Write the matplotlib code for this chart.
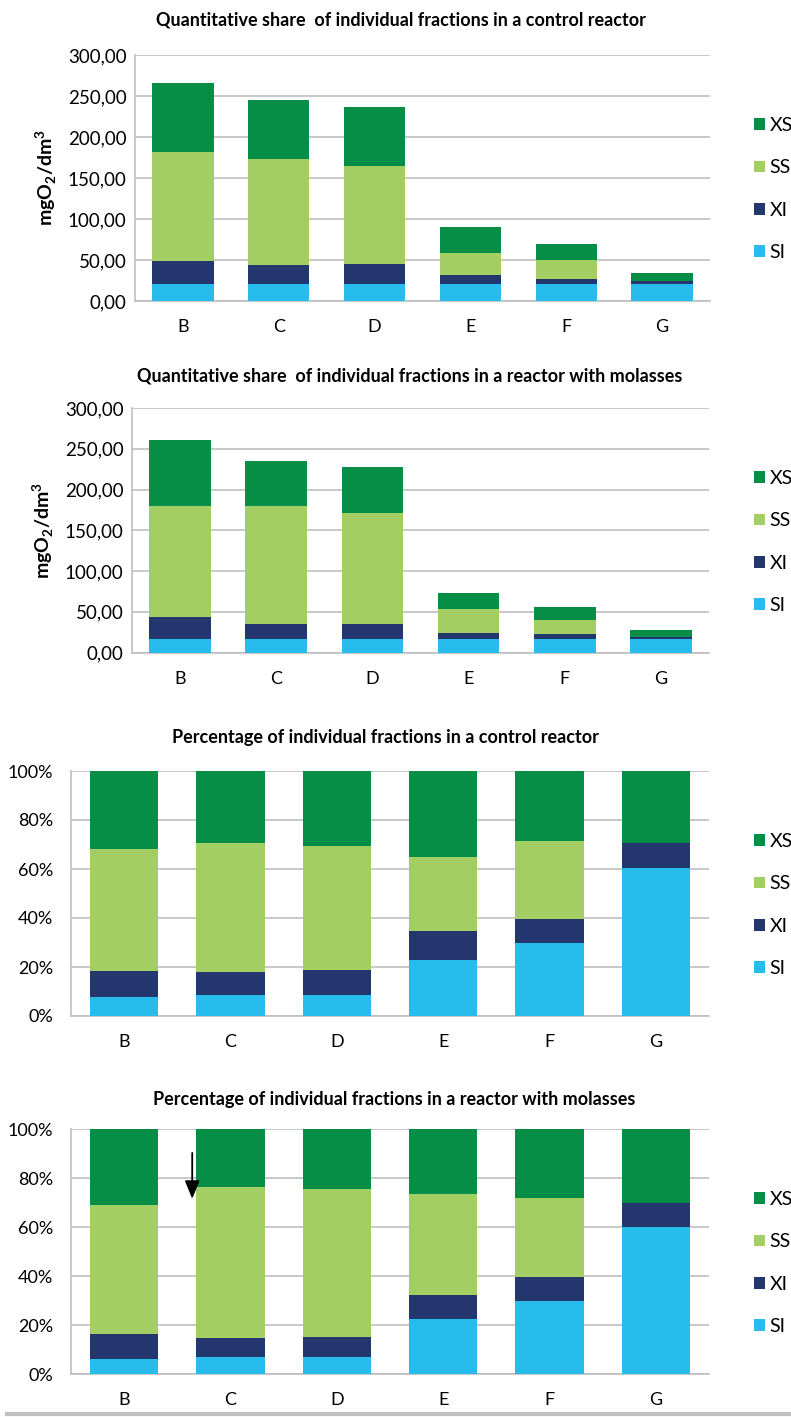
import matplotlib
matplotlib.use("Agg")
import matplotlib.pyplot as plt
import numpy as np
from matplotlib.ticker import FuncFormatter

plt.rcParams['font.family'] = ['Lato', 'DejaVu Sans']
plt.rcParams['mathtext.fontset'] = 'custom'
plt.rcParams['mathtext.rm'] = 'Lato'
plt.rcParams['mathtext.bf'] = 'Lato:bold'

# sampling points
samples = ["B", "C", "D", "E", "F", "G"]
fractions = ["SI", "XI", "SS", "XS"]

# mgO2/dm3, control reactor
ctrl_SI = [20.6, 20.6, 20.6, 20.6, 20.6, 20.6]
ctrl_XI = [28.5, 23.2, 24.0, 10.6, 6.8, 3.5]
ctrl_SS = [132.1, 129.3, 119.6, 26.9, 22.0, 0.0]
ctrl_XS = [84.2, 71.8, 72.7, 31.7, 19.9, 10.1]

# mgO2/dm3, reactor with molasses
mol_SI = [16.5, 16.5, 16.5, 16.5, 16.5, 16.5]
mol_XI = [26.5, 17.9, 17.9, 6.9, 5.6, 2.7]
mol_SS = [136.6, 145.6, 137.0, 29.9, 17.8, 0.0]
mol_XS = [80.8, 55.4, 55.8, 19.3, 15.5, 8.3]

colors = {"SI": "#27BCEB", "XI": "#23376E", "SS": "#A3CE64", "XS": "#078E46"}
grid_c = "#BFBFBF"

W, H = 791, 1417
fig = plt.figure(figsize=(W / 100, H / 100), dpi=100)


def box(l, r, t, b):
    return [l / W, 1 - b / H, (r - l) / W, (b - t) / H]


def stacked(ax, data, percent):
    x = np.arange(len(samples))
    data = np.array(data, dtype=float)
    if percent:
        data = data / data.sum(axis=0) * 100
    bottom = np.zeros(len(samples))
    bars = []
    for name, vals in zip(fractions, data):
        b = ax.bar(x, vals, 0.64, bottom=bottom, color=colors[name], label=name, zorder=3)
        bars.append(b)
        bottom += vals
    ax.set_xlim(-0.5, len(samples) - 0.5)
    ax.set_xticks(x)
    ax.set_xticklabels(samples)
    for s in ["top", "right"]:
        ax.spines[s].set_visible(False)
    for s in ["left", "bottom"]:
        ax.spines[s].set_color(grid_c)
        ax.spines[s].set_linewidth(1.2)
    ax.yaxis.grid(True, color=grid_c, linewidth=1.2, zorder=0)
    ax.set_axisbelow(True)
    ax.tick_params(length=0, labelsize=13)
    ax.tick_params(axis='x', pad=13)
    return bars


def legend(ax, bars, yc):
    h = bars[::-1]
    fig.legend(h, [b.get_label() for b in h], loc='center left',
               bbox_to_anchor=(754 / W, 1 - yc / H), frameon=False,
               fontsize=14, handlelength=0.55, handleheight=0.55,
               handletextpad=0.25, labelspacing=1.3, borderpad=0,
               borderaxespad=0)


title_kw = dict(ha='center', va='center', fontsize=13, fontweight='bold')

# absolute values
ax1 = fig.add_axes(box(135, 710, 55, 301))
b1 = stacked(ax1, [ctrl_SI, ctrl_XI, ctrl_SS, ctrl_XS], False)
ax2 = fig.add_axes(box(132, 709, 408, 652.5))
b2 = stacked(ax2, [mol_SI, mol_XI, mol_SS, mol_XS], False)
for ax in (ax1, ax2):
    ax.set_ylim(0, 300)
    ax.set_yticks(np.arange(0, 301, 50))
    ax.yaxis.set_major_formatter(FuncFormatter(lambda v, p: f"{v:.2f}".replace(".", ",")))
    ax.tick_params(axis='y', pad=6, labelsize=13.5)
    ax.set_ylabel(r'mgO$_\mathbf{2}$/dm$^\mathbf{3}$', fontsize=14, fontweight='bold', labelpad=6)

fig.text(401 / W, 1 - 20 / H, "Quantitative share  of individual fractions in a control reactor", **title_kw)
fig.text(410 / W, 1 - 376 / H, "Quantitative share  of individual fractions in a reactor with molasses", **title_kw)
legend(ax1, b1, 189)
legend(ax2, b2, 542)

# percentages
ax3 = fig.add_axes(box(71, 709, 771, 1016))
b3 = stacked(ax3, [ctrl_SI, ctrl_XI, ctrl_SS, ctrl_XS], True)
ax4 = fig.add_axes(box(71, 709, 1129.3, 1374.3))
b4 = stacked(ax4, [mol_SI, mol_XI, mol_SS, mol_XS], True)
for ax in (ax3, ax4):
    ax.set_ylim(0, 100)
    ax.set_yticks(np.arange(0, 101, 20))
    ax.yaxis.set_major_formatter(FuncFormatter(lambda v, p: f"{v:.0f}%"))
    ax.tick_params(axis='y', pad=13)

fig.text(385 / W, 1 - 738 / H, "Percentage of individual fractions in a control reactor", **title_kw)
fig.text(394.5 / W, 1 - 1099 / H, "Percentage of individual fractions in a reactor with molasses", **title_kw)
legend(ax3, b3, 905)
legend(ax4, b4, 1263)

# arrow pointing down next to bar C
ax4.annotate("", xy=(0.19, 0.705), xytext=(0.19, 0.915), xycoords='axes fraction',
             arrowprops=dict(arrowstyle='-|>,head_width=0.45,head_length=1.1',
                             color='black', lw=1.3))

# grey rule along the bottom
fig.add_artist(plt.Line2D([7 / W, 1], [1 - 1414 / H] * 2, color='#C0C0C0', lw=3))

fig.savefig("out.png", dpi=100)
